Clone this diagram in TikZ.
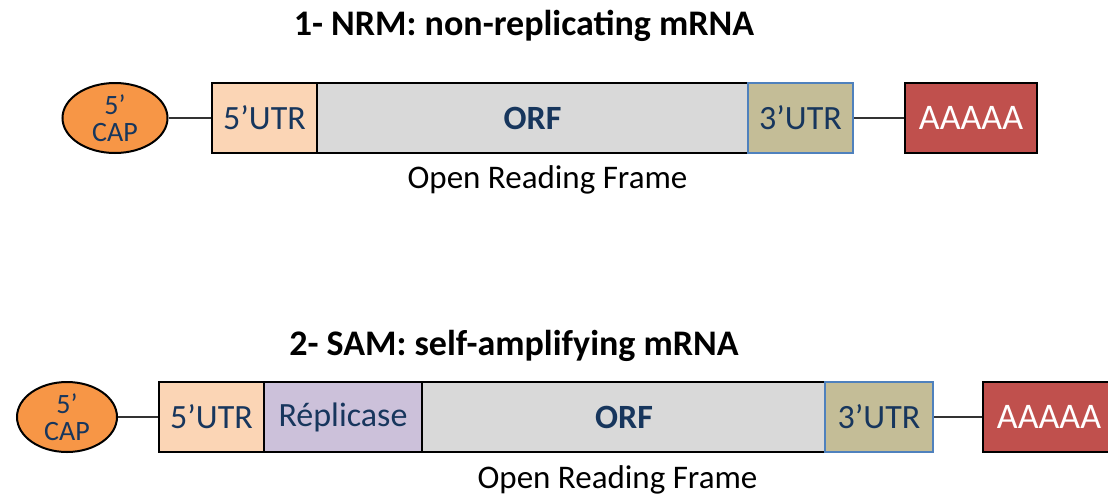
\documentclass[tikz,border=0pt]{standalone}
\usepackage{fontspec}
\setmainfont{Carlito}
\usepackage{tikz}
\usetikzlibrary{shapes.geometric}

\definecolor{navytext}{HTML}{17365D}
\definecolor{capfill}{HTML}{F79646}
\definecolor{utrfive}{HTML}{FBD5B5}
\definecolor{orffill}{HTML}{D9D9D9}
\definecolor{utrthree}{HTML}{C4BD97}
\definecolor{utrline}{HTML}{4F81BD}
\definecolor{repfill}{HTML}{CCC1DA}
\definecolor{polyfill}{HTML}{C0504D}

\tikzset{
  seg/.style={
    draw,
    line width=2pt,
    minimum height=70pt,
    inner sep=0pt,
    text=navytext,
    font=\fontsize{34}{38}\selectfont
  },
  capnode/.style={
    ellipse,
    draw,
    line width=2pt,
    fill=capfill,
    inner sep=0pt,
    minimum height=70pt,
    align=center,
    text=navytext,
    font=\fontsize{28}{30}\selectfont
  },
  polynode/.style={
    seg,
    fill=polyfill,
    minimum width=132pt,
    text=white,
    font=\fontsize{36}{40}\selectfont
  },
  title/.style={anchor=base, font=\bfseries\fontsize{36}{40}\selectfont},
  caption/.style={anchor=base, font=\fontsize{33}{36}\selectfont},
  link/.style={draw, line width=1.2pt, black!80}
}

\begin{document}
\begin{tikzpicture}[x=1pt,y=-1pt]
  \clip (0,0) rectangle (1108,496);
  \useasboundingbox (0,0) rectangle (1108,496);

  % non-replicating mRNA
  \node[title] (titlea) at (524,35) {1- NRM: non-replicating mRNA};
  \node[capnode, minimum width=105pt] (capa) at (115,118) {5’\\[-3pt]CAP};
  \node[seg, fill=utrfive, minimum width=105pt] (utr5a) at (264.5,118) {5’UTR};
  \node[seg, fill=orffill, minimum width=431pt, font=\bfseries\fontsize{34}{38}\selectfont] (orfa) at (532.5,118) {ORF};
  \node[seg, draw=utrline, fill=utrthree, minimum width=105pt] (utr3a) at (800.5,118) {3’UTR};
  \node[polynode] (polya) at (971,118) {AAAAA};
  \node[caption] (framea) at (547.5,188) {Open Reading Frame};
  \path[link] (capa.east) -- (utr5a.west)
              (utr3a.east) -- (polya.west);

  % self-amplifying mRNA
  \node[title] (titleb) at (514,355) {2- SAM: self-amplifying mRNA};
  \node[capnode, minimum width=100pt] (capb) at (67,417) {5’\\[-3pt]CAP};
  \node[seg, fill=utrfive, minimum width=105pt] (utr5b) at (211.5,417) {5’UTR};
  \node[seg, fill=repfill, minimum width=158pt] (repb) at (343,417) {Réplicase};
  \node[seg, fill=orffill, minimum width=404pt, font=\bfseries\fontsize{34}{38}\selectfont] (orfb) at (624,417) {ORF};
  \node[seg, draw=utrline, fill=utrthree, minimum width=108pt] (utr3b) at (879,417) {3’UTR};
  \node[polynode] (polyb) at (1049,417) {AAAAA};
  \node[caption] (frameb) at (617.5,488) {Open Reading Frame};
  \path[link] (capb.east) -- (utr5b.west)
              (utr3b.east) -- (polyb.west);
\end{tikzpicture}
\end{document}
